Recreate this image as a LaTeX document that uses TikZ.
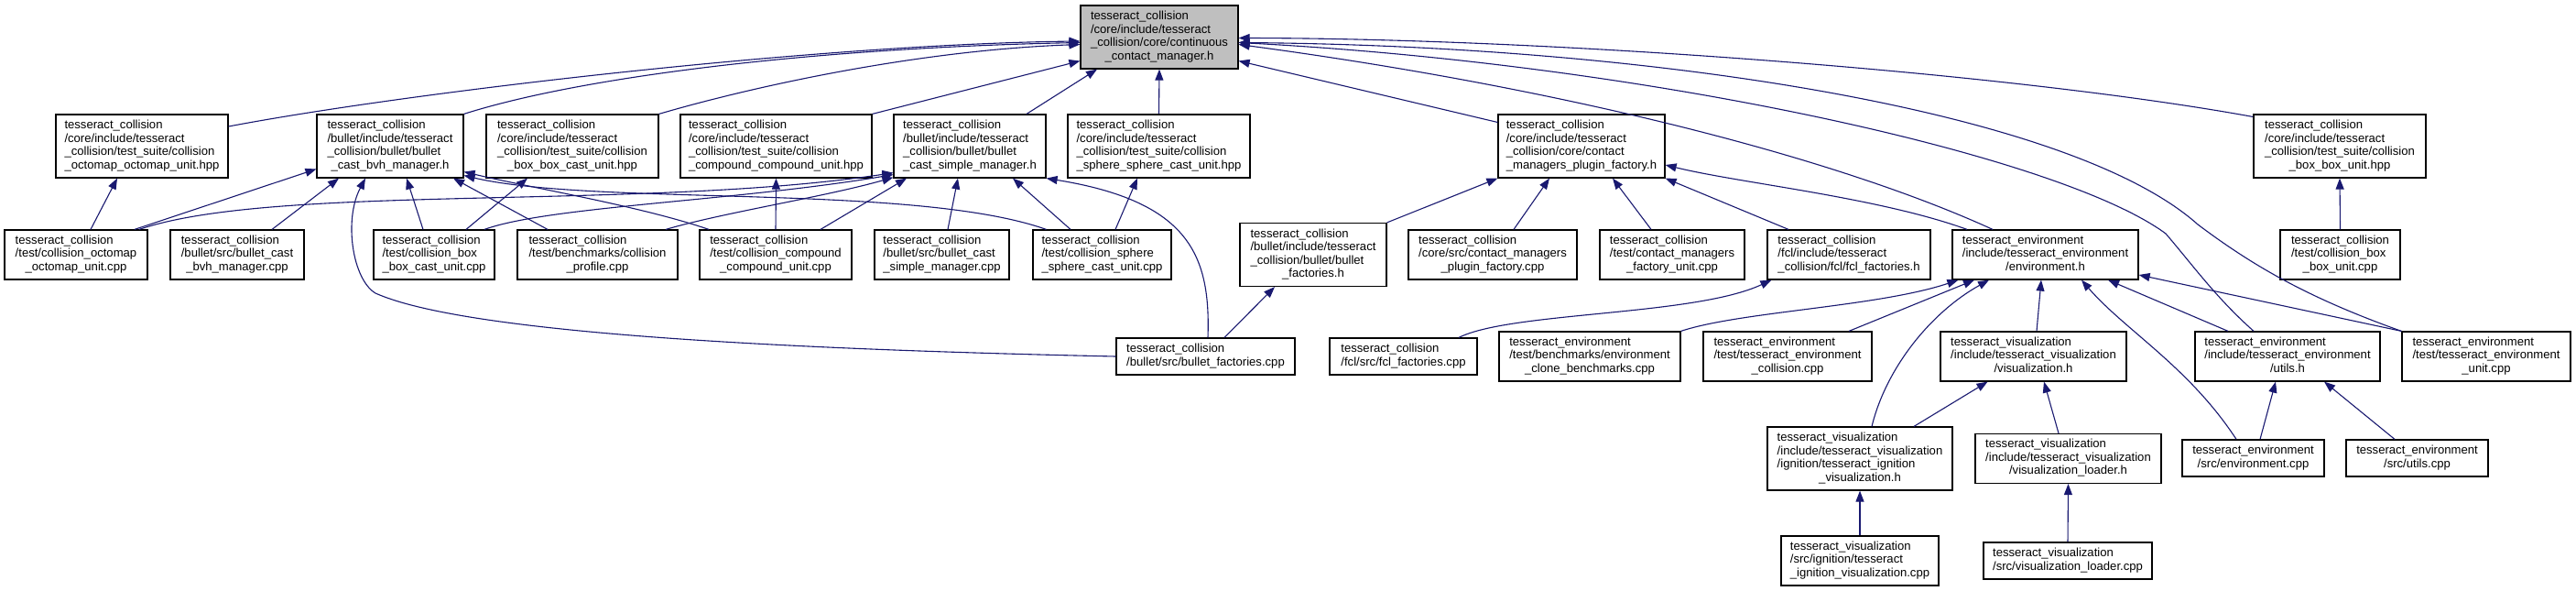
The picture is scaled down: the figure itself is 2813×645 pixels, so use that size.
\documentclass[tikz,border=0pt]{standalone}
\usepackage{fontspec}
\setmainfont{Liberation Sans}
\usepackage{tikz}
\usetikzlibrary{arrows.meta,calc}
\definecolor{IncBlue}{HTML}{191970}
\definecolor{HeadGrey}{HTML}{BFBFBF}
\newcommand{\flbl}[2]{\begin{tabular}{@{}l@{}}#1\\\multicolumn{1}{@{}c@{}}{#2}\end{tabular}}

\begin{document}
\begin{tikzpicture}[
  x=1pt,y=-1pt,
  filebox/.style={draw=black,line width=1.2pt,fill=white,inner sep=0pt,
    font=\fontsize{13.1}{14.5}\selectfont},
  headfile/.style={filebox,fill=HeadGrey},
  four/.style={minimum height=69pt},
  three/.style={minimum height=54pt},
  two/.style={minimum height=40pt},
  arr/.style={-{Triangle[length=12pt,width=9pt]},line width=1.1pt,draw=IncBlue}
]
\useasboundingbox[fill=white] (0,0) rectangle (2813,645);
\node[headfile,four,minimum width=172pt] (ccm) at (1266,40.5) {\flbl{tesseract\_collision\\/core/include/tesseract\\\_collision/core/continuous}{\_contact\_manager.h}};
\node[filebox,four,minimum width=188pt] (ochpp) at (155,159.5) {\flbl{tesseract\_collision\\/core/include/tesseract\\\_collision/test\_suite/collision}{\_octomap\_octomap\_unit.hpp}};
\node[filebox,four,minimum width=160pt] (bvhh) at (426,159.5) {\flbl{tesseract\_collision\\/bullet/include/tesseract\\\_collision/bullet/bullet}{\_cast\_bvh\_manager.h}};
\node[filebox,four,minimum width=188pt] (bbchpp) at (625,159.5) {\flbl{tesseract\_collision\\/core/include/tesseract\\\_collision/test\_suite/collision}{\_box\_box\_cast\_unit.hpp}};
\node[filebox,four,minimum width=209pt] (cchpp) at (847.5,159.5) {\flbl{tesseract\_collision\\/core/include/tesseract\\\_collision/test\_suite/collision}{\_compound\_compound\_unit.hpp}};
\node[filebox,four,minimum width=166pt] (simh) at (1059,159.5) {\flbl{tesseract\_collision\\/bullet/include/tesseract\\\_collision/bullet/bullet}{\_cast\_simple\_manager.h}};
\node[filebox,four,minimum width=199pt] (sschpp) at (1265.5,159.5) {\flbl{tesseract\_collision\\/core/include/tesseract\\\_collision/test\_suite/collision}{\_sphere\_sphere\_cast\_unit.hpp}};
\node[filebox,four,minimum width=182pt] (pfh) at (1727,159.5) {\flbl{tesseract\_collision\\/core/include/tesseract\\\_collision/core/contact}{\_managers\_plugin\_factory.h}};
\node[filebox,four,minimum width=188pt] (bbhpp) at (2555,159.5) {\flbl{tesseract\_collision\\/core/include/tesseract\\\_collision/test\_suite/collision}{\_box\_box\_unit.hpp}};
\node[filebox,three,minimum width=156pt] (occpp) at (83,278) {\flbl{tesseract\_collision\\/test/collision\_octomap}{\_octomap\_unit.cpp}};
\node[filebox,three,minimum width=146pt] (bvhcpp) at (259,278) {\flbl{tesseract\_collision\\/bullet/src/bullet\_cast}{\_bvh\_manager.cpp}};
\node[filebox,three,minimum width=132pt] (bbccpp) at (474,278) {\flbl{tesseract\_collision\\/test/collision\_box}{\_box\_cast\_unit.cpp}};
\node[filebox,three,minimum width=175pt] (profcpp) at (652.5,278) {\flbl{tesseract\_collision\\/test/benchmarks/collision}{\_profile.cpp}};
\node[filebox,three,minimum width=166pt] (cccpp) at (847,278) {\flbl{tesseract\_collision\\/test/collision\_compound}{\_compound\_unit.cpp}};
\node[filebox,three,minimum width=147pt] (simcpp) at (1028.5,278) {\flbl{tesseract\_collision\\/bullet/src/bullet\_cast}{\_simple\_manager.cpp}};
\node[filebox,three,minimum width=151pt] (ssccpp) at (1203.5,278) {\flbl{tesseract\_collision\\/test/collision\_sphere}{\_sphere\_cast\_unit.cpp}};
\node[filebox,four,minimum width=160pt] (bfh) at (1434,278) {\flbl{tesseract\_collision\\/bullet/include/tesseract\\\_collision/bullet/bullet}{\_factories.h}};
\node[filebox,three,minimum width=184pt] (pfcpp) at (1630,278) {\flbl{tesseract\_collision\\/core/src/contact\_managers}{\_plugin\_factory.cpp}};
\node[filebox,three,minimum width=158pt] (pfucpp) at (1826,278) {\flbl{tesseract\_collision\\/test/contact\_managers}{\_factory\_unit.cpp}};
\node[filebox,three,minimum width=178pt] (fclh) at (2019,278) {\flbl{tesseract\_collision\\/fcl/include/tesseract}{\_collision/fcl/fcl\_factories.h}};
\node[filebox,three,minimum width=203pt] (envh) at (2233.5,278) {\flbl{tesseract\_environment\\/include/tesseract\_environment}{/environment.h}};
\node[filebox,three,minimum width=131pt] (bbcpp) at (2555.5,278) {\flbl{tesseract\_collision\\/test/collision\_box}{\_box\_unit.cpp}};
\node[filebox,two,minimum width=195pt] (bfcpp) at (1316.5,389) {\flbl{tesseract\_collision}{/bullet/src/bullet\_factories.cpp}};
\node[filebox,two,minimum width=161pt] (fclcpp) at (1532.5,389) {\flbl{tesseract\_collision}{/fcl/src/fcl\_factories.cpp}};
\node[filebox,three,minimum width=198pt] (cbcpp) at (1736,389) {\flbl{tesseract\_environment\\/test/benchmarks/environment}{\_clone\_benchmarks.cpp}};
\node[filebox,three,minimum width=184pt] (eccpp) at (1952,389) {\flbl{tesseract\_environment\\/test/tesseract\_environment}{\_collision.cpp}};
\node[filebox,three,minimum width=203pt] (vish) at (2220.5,389) {\flbl{tesseract\_visualization\\/include/tesseract\_visualization}{/visualization.h}};
\node[filebox,three,minimum width=202pt] (utilsh) at (2498,389) {\flbl{tesseract\_environment\\/include/tesseract\_environment}{/utils.h}};
\node[filebox,three,minimum width=184pt] (eucpp) at (2715,389) {\flbl{tesseract\_environment\\/test/tesseract\_environment}{\_unit.cpp}};
\node[filebox,four,minimum width=202pt] (ignh) at (2031,500.5) {\flbl{tesseract\_visualization\\/include/tesseract\_visualization\\/ignition/tesseract\_ignition}{\_visualization.h}};
\node[filebox,three,minimum width=203pt] (vlh) at (2258.5,500.5) {\flbl{tesseract\_visualization\\/include/tesseract\_visualization}{/visualization\_loader.h}};
\node[filebox,two,minimum width=155pt] (envcpp) at (2460.5,500) {\flbl{tesseract\_environment}{/src/environment.cpp}};
\node[filebox,two,minimum width=155pt] (utcpp) at (2639.5,500) {\flbl{tesseract\_environment}{/src/utils.cpp}};
\node[filebox,three,minimum width=172pt] (igncpp) at (2031,612) {\flbl{tesseract\_visualization\\/src/ignition/tesseract}{\_ignition\_visualization.cpp}};
\node[filebox,two,minimum width=184pt] (vlcpp) at (2258,612) {\flbl{tesseract\_visualization}{/src/visualization\_loader.cpp}};
\draw[arr] ([yshift=21.5pt]ochpp.east) .. controls (450,100) and (900,48) .. ([yshift=-4.5pt]ccm.west);
\draw[arr] (bvhh.north east) .. controls (640,82) and (900,52) .. ([yshift=-6pt]ccm.west);
\draw[arr] (bbchpp.north east) .. controls (820,95) and (1000,55) .. ([yshift=-8pt]ccm.west);
\draw[arr] (cchpp.north east) -- ([yshift=-26pt]ccm.west);
\draw[arr] ([xshift=62pt]simh.north) -- ([xshift=-68pt]ccm.south);
\draw[arr] (sschpp.north) -- (ccm.south);
\draw[arr] ([yshift=26pt]pfh.west) -- ([yshift=-26pt]ccm.east);
\draw[arr] ([yshift=32pt]bbhpp.west) .. controls (2200,80) and (1700,42) .. ([yshift=-1pt]ccm.east);
\draw[arr] (eucpp.north west) .. controls (2520,325) and (2460,290) .. (2400,245) .. controls (2260,120) and (1800,50) .. ([yshift=-6pt]ccm.east);
\draw[arr] ([xshift=-37pt]utilsh.north) .. controls (2420,325) and (2395,290) .. (2365,255) .. controls (2250,170) and (1800,70) .. ([yshift=-6pt]ccm.east);
\draw[arr] ([xshift=-57.5pt]envh.north) .. controls (2000,170) and (1700,95) .. ([yshift=-8pt]ccm.east);
\draw[arr] ([xshift=-85.5pt]envh.north) .. controls (2050,215) and (1900,200) .. ([yshift=-20.5pt]pfh.east);
\draw[arr] (bfh.north east) -- (pfh.south west);
\draw[arr] ([xshift=23pt]pfcpp.north) -- ([xshift=-35pt]pfh.south);
\draw[arr] ([xshift=-23pt]pfucpp.north) -- ([xshift=34pt]pfh.south);
\draw[arr] ([xshift=-66pt]fclh.north) -- (pfh.south east);
\draw[arr] ([xshift=20.5pt]bfcpp.north) -- ([xshift=-42pt]bfh.south);
\draw[arr] ([xshift=60.5pt]fclcpp.north) .. controls (1650,340) and (1850,345) .. ([xshift=5pt]fclh.south west);
\draw[arr] ([xshift=64pt]occpp.north) -- ([yshift=-25pt]bvhh.west);
\draw[arr] ([xshift=16pt]occpp.north) -- ([xshift=-27pt]ochpp.south);
\draw[arr] ([xshift=69pt]occpp.north) .. controls (300,200) and (700,230) .. ([yshift=6pt]simh.south west);
\draw[arr] ([xshift=38pt]bvhcpp.north) -- ([xshift=-56pt]bvhh.south);
\draw[arr] (bfcpp.west) .. controls (800,380) and (500,360) .. (410,320) .. controls (385,305) and (375,240) .. ([xshift=-27pt]bvhh.south);
\draw[arr] ([xshift=-12pt]bbccpp.north) -- ([xshift=18pt]bvhh.south);
\draw[arr] ([xshift=-54.5pt]profcpp.north) -- ([xshift=69pt]bvhh.south);
\draw[arr] ([xshift=-73pt]cccpp.north) .. controls (700,225) and (580,205) .. ([yshift=-28pt]bvhh.east);
\draw[arr] ([xshift=-61pt]ssccpp.north) .. controls (1000,200) and (650,225) .. ([yshift=-32pt]bvhh.east);
\draw[arr] ([xshift=55pt]bbccpp.north) .. controls (600,225) and (800,220) .. ([yshift=4pt]simh.south west);
\draw[arr] ([xshift=74.5pt]profcpp.north) .. controls (790,232) and (900,215) .. ([yshift=1pt]simh.south west);
\draw[arr] ([xshift=49pt]cccpp.north) -- ([xshift=-69pt]simh.south);
\draw[arr] ([xshift=6.5pt]simcpp.north) -- ([xshift=-13pt]simh.south);
\draw[arr] ([xshift=-34.5pt]ssccpp.north) -- ([xshift=47pt]simh.south);
\draw[arr] ([xshift=14.5pt]ssccpp.north) -- ([xshift=-23.5pt]sschpp.south);
\draw[arr] ([xshift=2.5pt]bfcpp.north) .. controls (1322,280) and (1300,220) .. (simh.south east);
\draw[arr] ([xshift=35pt]bbccpp.north) -- ([xshift=-49pt]bbchpp.south);
\draw[arr] (cccpp.north) -- (cchpp.south);
\draw[arr] (bbcpp.north) -- (bbhpp.south);
\draw[arr] (cbcpp.north east) .. controls (1900,340) and (2050,335) .. ([xshift=7pt]envh.south west);
\draw[arr] ([xshift=67pt]eccpp.north) -- ([xshift=-77.5pt]envh.south);
\draw[arr] ([xshift=13pt]ignh.north) .. controls (2060,400) and (2110,340) .. ([xshift=-61.5pt]envh.south);
\draw[arr] ([xshift=3.5pt]vish.north) -- ([xshift=-4.5pt]envh.south);
\draw[arr] ([xshift=-18.5pt]envcpp.north) .. controls (2390,400) and (2320,360) .. ([xshift=39.5pt]envh.south);
\draw[arr] ([xshift=-65pt]utilsh.north) -- ([xshift=68.5pt]envh.south);
\draw[arr] (eucpp.north west) -- ([yshift=-22pt]envh.east);
\draw[arr] ([xshift=59pt]ignh.north) -- ([xshift=-50pt]vish.south);
\draw[arr] ([xshift=-10.5pt]vlh.north) -- ([xshift=11.5pt]vish.south);
\draw[arr] ([xshift=7.5pt]envcpp.north) -- ([xshift=-13pt]utilsh.south);
\draw[arr] ([xshift=-24.5pt]utcpp.north) -- ([xshift=40pt]utilsh.south);
\draw[arr] (igncpp.north) -- (ignh.south);
\draw[arr] (vlcpp.north) -- (vlh.south);
\end{tikzpicture}
\end{document}
